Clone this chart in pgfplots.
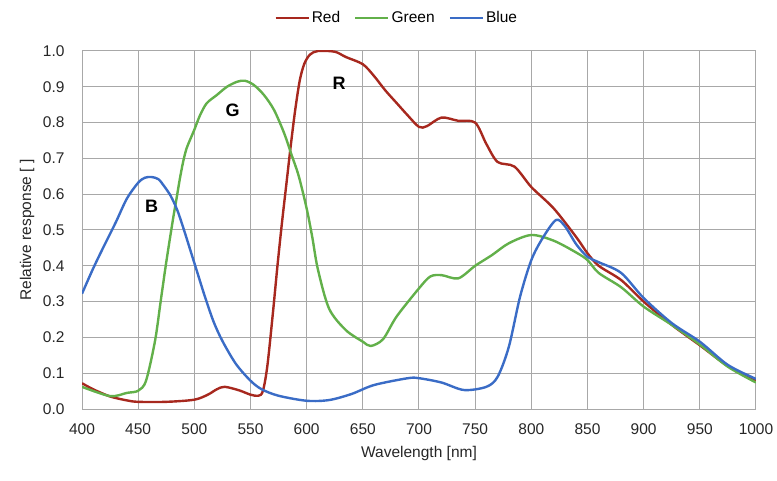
\documentclass[border=0pt]{standalone}
\usepackage{fontspec}
\setmainfont{Liberation Sans}
\usepackage{pgfplots}
\pgfplotsset{compat=1.18}
\definecolor{rcurve}{HTML}{A7281E}
\definecolor{gcurve}{HTML}{62B04A}
\definecolor{bcurve}{HTML}{3A6CC6}
\definecolor{gridgray}{HTML}{A8A8A8}

\begin{document}
\begin{tikzpicture}[x=1pt,y=1pt]
\useasboundingbox (0,0) rectangle (777,480);
\begin{axis}[
  at={(82pt,71pt)}, anchor=south west,
  scale only axis, width=674pt, height=358pt,
  xmin=400, xmax=1000, ymin=0, ymax=1,
  xtick={400,450,...,1000},
  ytick={0,0.1,...,1.0},
  xticklabel style={/pgf/number format/1000 sep={}, yshift=-11pt},
  yticklabel style={xshift=-14pt, /pgf/number format/fixed, /pgf/number format/fixed zerofill, /pgf/number format/precision=1},
  /pgf/number format/assume math mode=true,
  tick label style={font=\fontsize{15.5}{18}\selectfont, text=black!85},
  label style={font=\fontsize{15.5}{18}\selectfont, text=black!85},
  major tick length=0pt,
  grid=major,
  grid style={gridgray, line width=1pt},
  axis line style={gridgray, line width=1pt},
  xlabel={Wavelength [nm]},
  ylabel={Relative response [ ]},
  xlabel style={at={(rel axis cs:0.5,-0.123)}, anchor=center},
  ylabel style={at={(rel axis cs:-0.0816,0.5)}, anchor=center},
  legend columns=3,
  legend style={at={(0.467,1.092)}, anchor=center, draw=none, fill=none,
    font=\fontsize{15.5}{18}\selectfont,
    /tikz/every even column/.append style={column sep=12pt}},
  legend image code/.code={\draw[#1] (0pt,0pt) -- (33pt,0pt);},
  every axis plot/.append style={line width=2.4pt, smooth, tension=0.5, no marks},
]
\addplot[rcurve] coordinates {
(400,0.072) (410,0.055) (425,0.035) (440,0.024) (450,0.020) (475,0.020)
(500,0.026) (512,0.040) (520,0.055) (527,0.062) (540,0.052) (550,0.040)
(557,0.037) (561,0.050) (565,0.12) (570,0.27) (574,0.40) (578,0.52)
(582,0.63) (586,0.74) (590,0.84) (594,0.92) (598,0.965) (603,0.99)
(610,1.0) (625,0.998) (635,0.983) (650,0.963) (660,0.930) (670,0.89)
(680,0.855) (690,0.82) (700,0.788) (707,0.790) (720,0.814) (735,0.805)
(750,0.800) (760,0.74) (770,0.69) (785,0.677) (800,0.62) (820,0.56)
(840,0.48) (850,0.435) (860,0.40) (880,0.36) (900,0.30) (925,0.235)
(950,0.178) (975,0.12) (1000,0.08)
};
\addlegendentry{Red}
\addplot[gcurve] coordinates {
(400,0.062) (425,0.036) (440,0.045) (450,0.051) (457,0.079) (465,0.19)
(470,0.30) (475,0.41) (481,0.53) (484,0.585) (487,0.641) (490,0.69)
(493,0.727) (497,0.758) (500,0.78) (505,0.82) (511,0.854) (520,0.877)
(529,0.90) (538,0.914) (545,0.917) (553,0.905) (562,0.877) (571,0.835)
(580,0.77) (587,0.706) (593,0.65) (600,0.56) (605,0.48) (610,0.39)
(620,0.28) (635,0.22) (650,0.188) (657,0.176) (668,0.195) (680,0.258)
(700,0.337) (710,0.37) (720,0.374) (735,0.365) (750,0.40) (765,0.43)
(780,0.463) (800,0.486) (820,0.470) (840,0.437) (850,0.416) (860,0.38)
(880,0.34) (900,0.286) (925,0.235) (950,0.18) (975,0.118) (1000,0.074)
};
\addlegendentry{Green}
\addplot[bcurve] coordinates {
(400,0.322) (410,0.393) (420,0.458) (430,0.521) (440,0.588) (450,0.632)
(456,0.646) (462,0.648) (468,0.642) (473,0.623) (479,0.595) (485,0.554)
(491,0.498) (497,0.438) (503,0.378) (509,0.318) (517,0.245) (525,0.19)
(537,0.126) (550,0.079) (560,0.055) (575,0.037) (600,0.023) (620,0.025)
(640,0.042) (660,0.067) (690,0.086) (700,0.086) (720,0.074) (740,0.053)
(760,0.062) (770,0.09) (780,0.174) (790,0.314) (800,0.416) (810,0.477)
(822,0.528) (830,0.51) (840,0.46) (850,0.425) (860,0.41) (880,0.38)
(900,0.31) (925,0.24) (950,0.188) (975,0.123) (1000,0.084)
};
\addlegendentry{Blue}
\node[font=\fontsize{18}{20}\selectfont\bfseries] at (axis cs:462,0.565) {B};
\node[font=\fontsize{18}{20}\selectfont\bfseries] at (axis cs:534,0.835) {G};
\node[font=\fontsize{18}{20}\selectfont\bfseries] at (axis cs:629,0.911) {R};
\end{axis}
\end{tikzpicture}
\end{document}
